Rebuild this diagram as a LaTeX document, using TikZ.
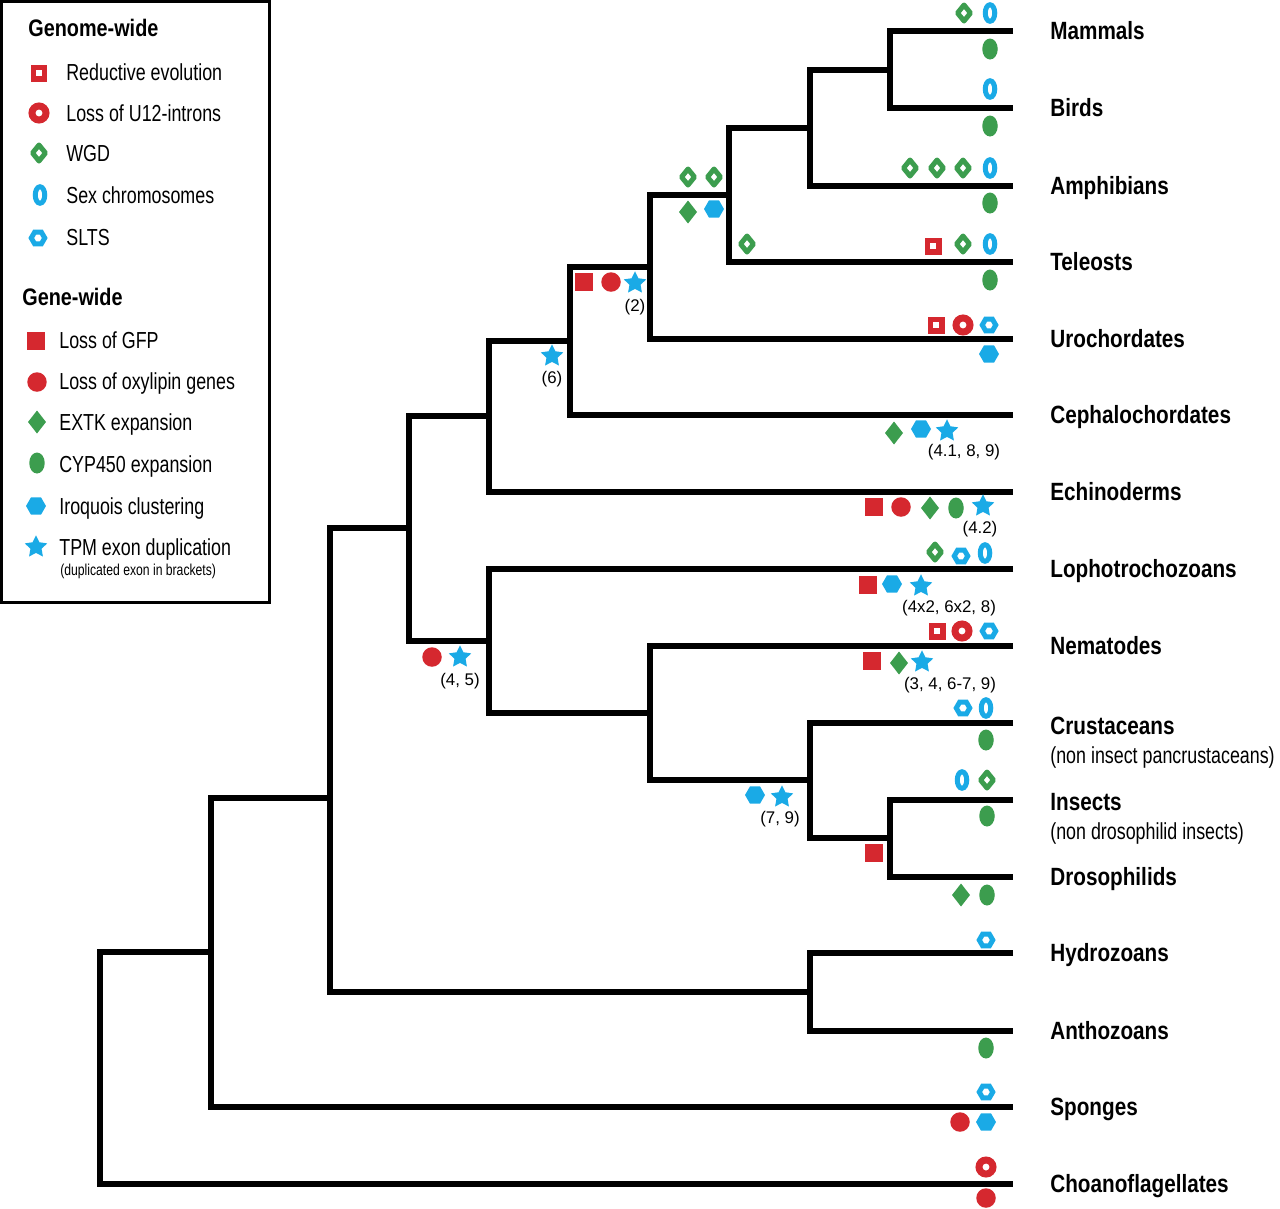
\documentclass[tikz,border=0pt]{standalone}
\usepackage{fontspec}
\setmainfont{Liberation Sans}
\newfontfamily\labfont{Liberation Sans}[FakeStretch=0.83]
\newfontfamily\legfont{Liberation Sans}[FakeStretch=0.77]
\usetikzlibrary{shapes.geometric,positioning}
\definecolor{sred}{HTML}{D5282F}
\definecolor{sgreen}{HTML}{3C9D4E}
\definecolor{sblue}{HTML}{1AAAE6}
\tikzset{
  branch/.style={line width=0.105cm, line join=miter},
  leaf/.style={font=\labfont\bfseries\fontsize{14.2}{16}\selectfont, inner sep=0pt, text height=10.2pt, text depth=0pt},
  sublab/.style={font=\legfont\fontsize{13.2}{15}\selectfont, anchor=west, inner sep=0pt, text height=9.4pt, text depth=0pt},
  lhead/.style={font=\labfont\bfseries\fontsize{13.6}{15}\selectfont, anchor=west, inner sep=0pt, text height=9.7pt, text depth=0pt},
  litem/.style={sublab},
  lsmall/.style={font=\legfont\fontsize{9}{10}\selectfont, anchor=west, inner sep=0pt, text height=6.4pt, text depth=0pt},
  num/.style={font=\fontsize{9.6}{11}\selectfont, inner sep=0pt, text height=6.9pt, text depth=0pt},
  sym/.style={inner sep=0pt, outer sep=0pt},
  reductive/.style={sym, rectangle, draw=sred, fill=white, line width=0.11cm, minimum size=0.23cm},
  uloss/.style={sym, circle, draw=sred, fill=white, line width=0.14cm, minimum size=0.28cm},
  wgd/.style={sym, diamond, draw=sgreen, fill=white, line width=0.1cm, line join=round, minimum width=0.26cm, minimum height=0.32cm},
  sexchr/.style={sym, ellipse, draw=sblue, fill=white, line width=0.1cm, minimum width=0.19cm, minimum height=0.33cm},
  slts/.style={sym, regular polygon, regular polygon sides=6, draw=sblue, fill=white, line width=0.1cm, minimum size=0.27cm},
  gfp/.style={sym, rectangle, fill=sred, minimum size=0.35cm},
  oxyl/.style={sym, circle, fill=sred, minimum size=0.39cm},
  extk/.style={sym, diamond, fill=sgreen, minimum width=0.36cm, minimum height=0.46cm},
  cyp/.style={sym, ellipse, fill=sgreen, minimum width=0.31cm, minimum height=0.42cm},
  iroq/.style={sym, regular polygon, regular polygon sides=6, fill=sblue, minimum size=0.40cm},
  tpm/.style={sym, star, star points=5, star point ratio=2, fill=sblue, minimum size=0.47cm}
}
\begin{document}
\begin{tikzpicture}[x=0.02cm, y=-0.02cm]
  \useasboundingbox (0,0) rectangle (1280,1208);

  % legend
  \draw[line width=0.06cm] (1.5,1.5) rectangle (269,602.5);
  \node at (28,28) [lhead] (gnm) {Genome-wide};
  \node at (39,73) [reductive] (lg1) {};
  \node at (66,72) [litem] (lg1t) {Reductive evolution};
  \node at (39,113) [uloss] (lg2) {};
  \node at (66,113) [litem] (lg2t) {Loss of U12-introns};
  \node at (39,153) [wgd] (lg3) {};
  \node at (66,153) [litem] (lg3t) {WGD};
  \node at (40,195) [sexchr] (lg4) {};
  \node at (66,195) [litem] (lg4t) {Sex chromosomes};
  \node at (38,238) [slts] (lg5) {};
  \node at (66,237) [litem] (lg5t) {SLTS};
  \node at (22,297) [lhead] (gne) {Gene-wide};
  \node at (36,341) [gfp] (lg6) {};
  \node at (59,340) [litem] (lg6t) {Loss of GFP};
  \node at (37,382) [oxyl] (lg7) {};
  \node at (59,381) [litem] (lg7t) {Loss of oxylipin genes};
  \node at (37,422) [extk] (lg8) {};
  \node at (59,422) [litem] (lg8t) {EXTK expansion};
  \node at (37,463) [cyp] (lg9) {};
  \node at (59,464) [litem] (lg9t) {CYP450 expansion};
  \node at (36,506) [iroq] (lg10) {};
  \node at (59,506) [litem] (lg10t) {Iroquois clustering};
  \node at (36,547) [tpm] (lg11) {};
  \node at (59,547) [litem] (lg11t) {TPM exon duplication};
  \node at (60,570) [lsmall] (lg11s) {(duplicated exon in brackets)};

  % tips
  \coordinate (mamtip) at (1013,31);
  \coordinate (birtip) at (1013,108);
  \coordinate (amptip) at (1013,186);
  \coordinate (teltip) at (1013,262);
  \coordinate (urotip) at (1013,339);
  \coordinate (ceptip) at (1013,415);
  \coordinate (echtip) at (1013,492);
  \coordinate (loptip) at (1013,569);
  \coordinate (nemtip) at (1013,646);
  \coordinate (crutip) at (1013,723);
  \coordinate (instip) at (1013,800);
  \coordinate (drotip) at (1013,877);
  \coordinate (hydtip) at (1013,953);
  \coordinate (anttip) at (1013,1031);
  \coordinate (spotip) at (1013,1107);
  \coordinate (chotip) at (1013,1184);

  % inner nodes
  \coordinate (mambir) at (890,70);
  \coordinate (tetra) at (810,128);
  \coordinate (vert) at (729,195);
  \coordinate (olfac) at (650,267);
  \coordinate (chord) at (570,341);
  \coordinate (deut) at (489,416);
  \coordinate (insdro) at (890,838);
  \coordinate (pancru) at (810,780);
  \coordinate (ecdy) at (650,713);
  \coordinate (proto) at (489,641);
  \coordinate (bilat) at (409,528);
  \coordinate (cnid) at (810,992);
  \coordinate (eumet) at (330,798);
  \coordinate (metaz) at (211,952);
  \coordinate (root) at (100,1068);

  \draw[branch] (mamtip) -| (mambir) |- (birtip);
  \draw[branch] (mambir) -| (tetra) |- (amptip);
  \draw[branch] (tetra) -| (vert) |- (teltip);
  \draw[branch] (vert) -| (olfac) |- (urotip);
  \draw[branch] (olfac) -| (chord) |- (ceptip);
  \draw[branch] (chord) -| (deut) |- (echtip);
  \draw[branch] (deut) -| (bilat) |- (proto);
  \draw[branch] (loptip) -| (proto) |- (ecdy);
  \draw[branch] (nemtip) -| (ecdy) |- (pancru);
  \draw[branch] (crutip) -| (pancru) |- (insdro);
  \draw[branch] (instip) -| (insdro) |- (drotip);
  \draw[branch] (bilat) -| (eumet) |- (cnid);
  \draw[branch] (hydtip) -| (cnid) |- (anttip);
  \draw[branch] (eumet) -| (metaz) |- (spotip);
  \draw[branch] (metaz) -| (root) |- (chotip);

  % taxa
  \node[leaf, right=0.74cm of mamtip] (mam) {Mammals};
  \node[leaf, right=0.74cm of birtip] (bir) {Birds};
  \node[leaf, right=0.74cm of amptip] (amp) {Amphibians};
  \node[leaf, right=0.74cm of teltip] (tel) {Teleosts};
  \node[leaf, right=0.74cm of urotip] (uro) {Urochordates};
  \node[leaf, right=0.74cm of ceptip] (cep) {Cephalochordates};
  \node[leaf, right=0.74cm of echtip] (ech) {Echinoderms};
  \node[leaf, right=0.74cm of loptip] (lop) {Lophotrochozoans};
  \node[leaf, right=0.74cm of nemtip] (nem) {Nematodes};
  \node[leaf, right=0.74cm of crutip, yshift=-0.06cm] (cru) {Crustaceans};
  \node[leaf, right=0.74cm of instip, yshift=-0.04cm] (ins) {Insects};
  \node[leaf, right=0.74cm of drotip] (dro) {Drosophilids};
  \node[leaf, right=0.74cm of hydtip] (hyd) {Hydrozoans};
  \node[leaf, right=0.74cm of anttip] (ant) {Anthozoans};
  \node[leaf, right=0.74cm of spotip] (spo) {Sponges};
  \node[leaf, right=0.74cm of chotip] (cho) {Choanoflagellates};
  \node at (1050,755) [sublab] (crusub) {(non insect pancrustaceans)};
  \node at (1050,831) [sublab] (inssub) {(non drosophilid insects)};

  % events on tips
  \node at (964,13) [wgd] (mam-w) {};
  \node at (990,13) [sexchr] (mam-s) {};
  \node at (990,49) [cyp] (mam-c) {};
  \node at (990,89) [sexchr] (bir-s) {};
  \node at (990,126) [cyp] (bir-c) {};
  \node at (910,168) [wgd] (amp-w1) {};
  \node at (937,168) [wgd] (amp-w2) {};
  \node at (963,168) [wgd] (amp-w3) {};
  \node at (990,168) [sexchr] (amp-s) {};
  \node at (990,203) [cyp] (amp-c) {};
  \node at (933,246) [reductive] (tel-r) {};
  \node at (963,244) [wgd] (tel-w) {};
  \node at (990,244) [sexchr] (tel-s) {};
  \node at (990,280) [cyp] (tel-c) {};
  \node at (936,325) [reductive] (uro-r) {};
  \node at (963,325) [uloss] (uro-u) {};
  \node at (989,325) [slts] (uro-l) {};
  \node at (989,354) [iroq] (uro-i) {};
  \node at (894,433) [extk] (cep-e) {};
  \node at (921,429) [iroq] (cep-i) {};
  \node at (947,431) [tpm] (cep-t) {};
  \node at (964,450) [num] (cep-n) {(4.1, 8, 9)};
  \node at (874,507) [gfp] (ech-g) {};
  \node at (901,507) [oxyl] (ech-o) {};
  \node at (930,508) [extk] (ech-e) {};
  \node at (956,508) [cyp] (ech-c) {};
  \node at (983,506) [tpm] (ech-t) {};
  \node at (980,527) [num] (ech-n) {(4.2)};
  \node at (935,552) [wgd] (lop-w) {};
  \node at (961,556) [slts] (lop-l) {};
  \node at (985,553) [sexchr] (lop-s) {};
  \node at (868,585) [gfp] (lop-g) {};
  \node at (892,584) [iroq] (lop-i) {};
  \node at (921,586) [tpm] (lop-t) {};
  \node at (949,606) [num] (lop-n) {(4x2, 6x2, 8)};
  \node at (937,631) [reductive] (nem-r) {};
  \node at (962,631) [uloss] (nem-u) {};
  \node at (989,631) [slts] (nem-l) {};
  \node at (872,661) [gfp] (nem-g) {};
  \node at (899,663) [extk] (nem-e) {};
  \node at (922,662) [tpm] (nem-t) {};
  \node at (950,683) [num] (nem-n) {(3, 4, 6-7, 9)};
  \node at (963,708) [slts] (cru-l) {};
  \node at (986,708) [sexchr] (cru-s) {};
  \node at (986,740) [cyp] (cru-c) {};
  \node at (962,780) [sexchr] (ins-s) {};
  \node at (987,780) [wgd] (ins-w) {};
  \node at (987,816) [cyp] (ins-c) {};
  \node at (961,895) [extk] (dro-e) {};
  \node at (987,895) [cyp] (dro-c) {};
  \node at (986,940) [slts] (hyd-l) {};
  \node at (986,1048) [cyp] (ant-c) {};
  \node at (986,1092) [slts] (spo-l) {};
  \node at (960,1122) [oxyl] (spo-o) {};
  \node at (986,1122) [iroq] (spo-i) {};
  \node at (986,1167) [uloss] (cho-u) {};
  \node at (986,1198) [oxyl] (cho-o) {};

  % events on inner branches
  \node at (688,177) [wgd] (ver-w1) {};
  \node at (714,177) [wgd] (ver-w2) {};
  \node at (688,212) [extk] (ver-e) {};
  \node at (714,209) [iroq] (ver-i) {};
  \node at (747,244) [wgd] (tel-w0) {};
  \node at (584,282) [gfp] (olf-g) {};
  \node at (611,282) [oxyl] (olf-o) {};
  \node at (635,283) [tpm] (olf-t) {};
  \node at (635,305) [num] (olf-n) {(2)};
  \node at (552,356) [tpm] (chd-t) {};
  \node at (552,377) [num] (chd-n) {(6)};
  \node at (432,657) [oxyl] (pro-o) {};
  \node at (460,657) [tpm] (pro-t) {};
  \node at (460,679) [num] (pro-n) {(4, 5)};
  \node at (755,795) [iroq] (pan-i) {};
  \node at (782,797) [tpm] (pan-t) {};
  \node at (780,817) [num] (pan-n) {(7, 9)};
  \node at (874,853) [gfp] (dro-g) {};
\end{tikzpicture}
\end{document}
